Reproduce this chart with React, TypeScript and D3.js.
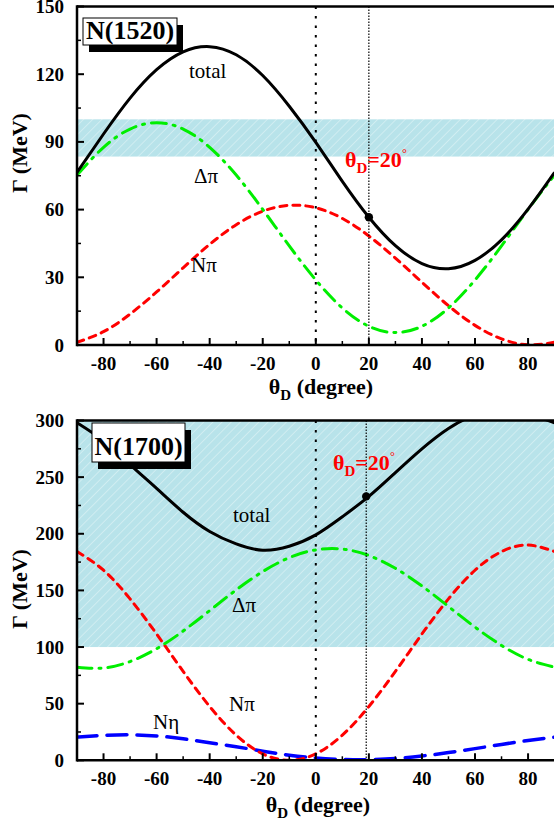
import React from 'react';
import * as d3 from 'd3';

// ---------- data ----------
const theta = [-90, -80, -70, -60, -50, -40, -30, -20, -10, 0, 10, 20, 30, 40, 50, 60, 70, 80, 90];

// N(1520)
const n1520Total = [76.5, 93.5, 109.4, 122.0, 129.9, 132.2, 128.6, 119.4, 105.8, 89.8, 72.5, 56.6, 44.0, 36.1, 33.8, 37.5, 46.6, 60.2, 76.5];
const n1520DeltaPi = [75.3, 87.6, 95.7, 98.5, 95.7, 87.6, 75.3, 60.1, 43.9, 28.8, 16.4, 8.3, 5.5, 8.3, 16.4, 28.8, 43.9, 60.1, 75.3];
const n1520NPi = [1.2, 5.9, 13.7, 23.5, 34.2, 44.6, 53.3, 59.3, 61.9, 60.8, 56.1, 48.3, 38.5, 27.8, 17.4, 8.7, 2.7, 0.1, 1.2];

// N(1700)
const n1700Total = [298, 282, 261, 240, 219, 202, 191, 185.5, 189, 199, 215, 233, 254, 275, 293, 305, 310, 306, 298];
const n1700DeltaPi = [82.2, 81.5, 87.2, 98.5, 114.1, 132.2, 150.4, 166.6, 178.9, 185.8, 186.5, 180.8, 169.5, 153.9, 135.8, 117.6, 101.4, 89.1, 82.2];
const n1700NPi = [184.3, 167.8, 142.5, 111.5, 78.5, 47.5, 22.2, 5.7, 0, 5.7, 22.2, 47.5, 78.5, 111.5, 142.5, 167.8, 184.3, 190, 184.3];
const n1700NEta = [20.5, 22, 22.5, 21.5, 19, 15.5, 12, 8, 4.5, 2, 0.7, 0.5, 1.5, 3.8, 6.8, 10.3, 14, 17.5, 20.5];

const xTicks = [-80, -60, -40, -20, 0, 20, 40, 60, 80];
const xMinorTicks = [-70, -50, -30, -10, 10, 30, 50, 70];
const yTicksTop = [0, 30, 60, 90, 120, 150];
const yMinorTop = [15, 45, 75, 105, 135];
const yTicksBottom = [0, 50, 100, 150, 200, 250, 300];
const yMinorBottom = [25, 75, 125, 175, 225, 275];
const bandTop = [83.5, 100];
const bandBottom = [100, 300];
const markTop = [20, 56.6];
const markBottom = [19, 233];

const SERIF = "'Liberation Serif'";

const x = d3.scaleLinear().domain([-90, 90]).range([77, 554.6]);

type Series = { values: number[]; color: string; width: number; dash?: string };

interface PanelProps {
  id: string;
  yDomain: [number, number];
  yRange: [number, number];
  yTicks: number[];
  yMinor: number[];
  band: number[];
  series: Series[];
  mark: number[];
  markLine: number;
}

const bold = { fontFamily: SERIF, fontWeight: 'bold' as const };

function Panel(p: PanelProps) {
  const y = d3.scaleLinear().domain(p.yDomain).range(p.yRange);
  const x0 = x.range()[0];
  const x1 = x.range()[1];
  const yb = p.yRange[0];
  const yt = p.yRange[1];
  const line = d3
    .line<number>()
    .x((_, i) => x(theta[i]))
    .y((d) => y(d))
    .curve(d3.curveNatural);
  return (
    <g>
      <defs>
        <clipPath id={`clip-${p.id}`}>
          <rect x={x0} y={yt} width={x1 - x0 + 2} height={yb - yt} />
        </clipPath>
        <pattern id={`hatch-${p.id}`} patternUnits="userSpaceOnUse" width={6.5} height={6.5} patternTransform="rotate(45)">
          <rect width={6.5} height={6.5} fill="#b8e3ea" />
          <line x1={0} y1={0} x2={0} y2={6.5} stroke="#ffffff" strokeOpacity={0.55} strokeWidth={1.2} />
        </pattern>
      </defs>
      <g clipPath={`url(#clip-${p.id})`}>
        <rect x={x0} y={y(p.band[1])} width={x1 - x0 + 2} height={y(p.band[0]) - y(p.band[1])} fill={`url(#hatch-${p.id})`} />
        {p.series.map((s, i) => (
          <path key={i} d={line(s.values) || ''} fill="none" stroke={s.color} strokeWidth={s.width} strokeDasharray={s.dash} strokeLinecap={s.dash ? 'round' : 'butt'} />
        ))}
        <line x1={x(0)} x2={x(0)} y1={yt} y2={yb} stroke="#000" strokeWidth={2} strokeDasharray="2.5,7" />
        <line x1={x(p.markLine)} x2={x(p.markLine)} y1={yt} y2={yb} stroke="#000" strokeWidth={1.2} strokeDasharray="1.5,1.5" />
      </g>
      <circle cx={x(p.mark[0])} cy={y(p.mark[1])} r={4.2} fill="#000" />
      {/* frame */}
      <line x1={x0} x2={x1 + 2} y1={yt} y2={yt} stroke="#000" strokeWidth={2.5} />
      <line x1={x0} x2={x1 + 2} y1={yb} y2={yb} stroke="#000" strokeWidth={2.5} />
      <line x1={x0} x2={x0} y1={yt - 1.2} y2={yb + 1.2} stroke="#000" strokeWidth={2.5} />
      {/* x ticks */}
      {xTicks.map((t) => (
        <g key={t}>
          <line x1={x(t)} x2={x(t)} y1={yb} y2={yb - 7} stroke="#000" strokeWidth={2} />
          <text x={x(t)} y={yb + 25} textAnchor="middle" style={{ ...bold, fontSize: 19 }}>
            {t}
          </text>
        </g>
      ))}
      {xMinorTicks.map((t) => (
        <line key={t} x1={x(t)} x2={x(t)} y1={yb} y2={yb - 4} stroke="#000" strokeWidth={1.5} />
      ))}
      {/* y ticks */}
      {p.yTicks.map((t) => (
        <g key={t}>
          <line x1={x0} x2={x0 + 7} y1={y(t)} y2={y(t)} stroke="#000" strokeWidth={2} />
          <text x={64} y={y(t) + 6.5} textAnchor="end" style={{ ...bold, fontSize: 19 }}>
            {t}
          </text>
        </g>
      ))}
      {p.yMinor.map((t) => (
        <line key={t} x1={x0} x2={x0 + 4} y1={y(t)} y2={y(t)} stroke="#000" strokeWidth={1.5} />
      ))}
    </g>
  );
}

function XTitle({ cx, baseline }: { cx: number; baseline: number }) {
  return (
    <text x={cx} y={baseline} textAnchor="middle" style={{ ...bold, fontSize: 22 }}>
      <tspan>θ</tspan>
      <tspan dy={6} style={{ fontSize: 15 }}>D</tspan>
      <tspan dy={-6}> (degree)</tspan>
    </text>
  );
}

function YTitle({ cx, cy }: { cx: number; cy: number }) {
  return (
    <text transform={`translate(${cx},${cy}) rotate(-90)`} textAnchor="middle" style={{ ...bold, fontSize: 22 }}>
      Γ (MeV)
    </text>
  );
}

function ThetaLabel({ x0, baseline }: { x0: number; baseline: number }) {
  return (
    <text x={x0} y={baseline} fill="#ff0000" style={{ ...bold, fontSize: 22 }}>
      <tspan>θ</tspan>
      <tspan dy={6} style={{ fontSize: 15 }}>D</tspan>
      <tspan dy={-6}>=20</tspan>
      <tspan dy={-10} style={{ fontSize: 12, fontWeight: 'normal' }}>°</tspan>
    </text>
  );
}

function NameBox({ bx, by, bw, bh, label, baseline }: { bx: number; by: number; bw: number; bh: number; label: string; baseline: number }) {
  return (
    <g>
      <rect x={bx + 6} y={by + 7} width={bw} height={bh} fill="#000" />
      <rect x={bx} y={by} width={bw} height={bh} fill="#fff" stroke="#000" strokeWidth={1} />
      <text x={bx + bw / 2} y={baseline} textAnchor="middle" style={{ ...bold, fontSize: 26 }}>
        {label}
      </text>
    </g>
  );
}

const lbl = { fontFamily: SERIF, fontSize: 21 };

export default function App() {
  return (
    <svg width={554} height={822} style={{ position: 'absolute', left: 0, top: 0, background: '#fff' }}>
      <rect width={554} height={822} fill="#fff" />
      <Panel
        id="top"
        yDomain={[0, 150]}
        yRange={[345, 6.5]}
        yTicks={yTicksTop}
        yMinor={yMinorTop}
        band={bandTop}
        mark={markTop}
        markLine={20}
        series={[
          { values: n1520NPi, color: '#ff0000', width: 3, dash: '7,6' },
          { values: n1520DeltaPi, color: '#00ee00', width: 3, dash: '15,7,2,7' },
          { values: n1520Total, color: '#000', width: 3 },
        ]}
      />
      <Panel
        id="bottom"
        yDomain={[0, 300]}
        yRange={[760.3, 420.5]}
        yTicks={yTicksBottom}
        yMinor={yMinorBottom}
        band={bandBottom}
        mark={markBottom}
        markLine={19}
        series={[
          { values: n1700NEta, color: '#0000ff', width: 3.5, dash: '20,10' },
          { values: n1700NPi, color: '#ff0000', width: 3, dash: '7,6' },
          { values: n1700DeltaPi, color: '#00ee00', width: 3, dash: '15,7,2,7' },
          { values: n1700Total, color: '#000', width: 3 },
        ]}
      />
      <NameBox bx={83} by={18} bw={94} bh={27} label="N(1520)" baseline={38.5} />
      <NameBox bx={92} by={423} bw={93} bh={39} label="N(1700)" baseline={455} />

      <text x={189} y={78} style={lbl}>total</text>
      <text x={194} y={183} style={lbl}>Δπ</text>
      <text x={191} y={272} style={lbl}>Nπ</text>

      <text x={233} y={522} style={lbl}>total</text>
      <text x={232} y={612} style={lbl}>Δπ</text>
      <text x={229} y={711} style={lbl}>Nπ</text>
      <text x={153} y={729} style={lbl}>Nη</text>

      <ThetaLabel x0={345} baseline={167} />
      <ThetaLabel x0={333} baseline={470} />

      <XTitle cx={321} baseline={394} />
      <XTitle cx={318} baseline={812} />
      <YTitle cx={27} cy={153} />
      <YTitle cx={27} cy={589} />
    </svg>
  );
}
